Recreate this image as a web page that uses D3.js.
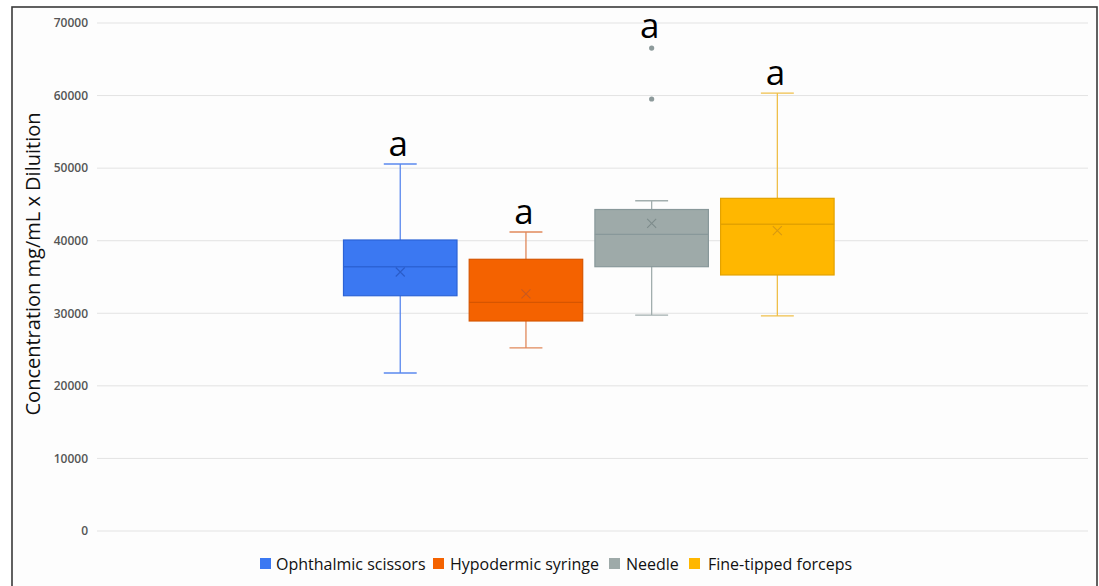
<!DOCTYPE html>
<html><head><meta charset="utf-8">
<script src="https://cdn.jsdelivr.net/npm/d3@7"></script>
<style>
html,body{margin:0;padding:0;background:#fff;}
svg{display:block;font-family:"Open Sans",sans-serif;}
</style></head>
<body><svg id="c" width="1099" height="586"></svg>
<script>
const categories = ["Ophthalmic scissors","Hypodermic syringe","Needle","Fine-tipped forceps"];
const minVals    = [21770, 25220, 29760, 29630];
const q1Vals     = [32420, 28940, 36420, 35280];
const medianVals = [36420, 31510, 40880, 42260];
const q3Vals     = [40100, 37440, 44300, 45840];
const maxVals    = [50570, 41200, 45510, 60350];
const meanVals   = [35690, 32660, 42400, 41380];
const outliers   = [[], [], [66550, 59530], []];
const letters    = ["a","a","a","a"];
const yTicks     = [0,10000,20000,30000,40000,50000,60000,70000];

const fills   = ["#3b78f2","#f46200","#9eaaa9","#ffb700"];
const strokes = ["#2c63d6","#d65500","#88989a","#e3a200"];
const whisk   = ["#5a88ee","#e0885a","#a2aeae","#efbf4a"];
const marks   = ["#2a5cc8","#c85a20","#7e8c8c","#d99a10"];

const svg = d3.select("#c");
// frame
svg.append("rect").attr("x",0).attr("y",0).attr("width",1099).attr("height",586).attr("fill","#fff");
svg.append("rect").attr("x",12).attr("y",7).attr("width",1085).attr("height",600)
  .attr("fill","#fdfdfd").attr("stroke","#3a3a3a").attr("stroke-width",1.6);

const plotL = 97, plotR = 1088;
const y = d3.scaleLinear().domain([0,70000]).range([531,23]);
const x = d3.scaleBand().domain(categories).range([331.3,846.3]).padding(0.097);

// grid
svg.append("g").selectAll("line").data(yTicks).join("line")
  .attr("x1",plotL).attr("x2",plotR).attr("y1",d=>y(d)).attr("y2",d=>y(d))
  .attr("stroke","#e3e3e3").attr("stroke-width",1);

// y axis labels
const yAxis = d3.axisLeft(y).tickValues(yTicks).tickSize(0).tickPadding(9).tickFormat(d3.format("d"));
const ga = svg.append("g").attr("transform",`translate(${plotL},0)`).call(yAxis);
ga.select(".domain").remove();
ga.selectAll("text").attr("font-family","Open Sans").attr("font-size",12).attr("font-weight",600).attr("fill","#555");

// y title
svg.append("text").attr("transform","translate(40,264) rotate(-90)")
  .attr("text-anchor","middle").attr("font-size",20).attr("fill","#111")
  .text("Concentration mg/mL x Diluition");

const bw = x.bandwidth();
const capW = bw*0.29;
categories.forEach((c,i)=>{
  const g = svg.append("g");
  const cx = x(c)+bw/2;
  // whiskers
  g.append("line").attr("x1",cx).attr("x2",cx).attr("y1",y(maxVals[i])).attr("y2",y(q3Vals[i])).attr("stroke",whisk[i]).attr("stroke-width",1.3);
  g.append("line").attr("x1",cx).attr("x2",cx).attr("y1",y(q1Vals[i])).attr("y2",y(minVals[i])).attr("stroke",whisk[i]).attr("stroke-width",1.3);
  g.append("line").attr("x1",cx-capW/2).attr("x2",cx+capW/2).attr("y1",y(maxVals[i])).attr("y2",y(maxVals[i])).attr("stroke",whisk[i]).attr("stroke-width",1.3);
  g.append("line").attr("x1",cx-capW/2).attr("x2",cx+capW/2).attr("y1",y(minVals[i])).attr("y2",y(minVals[i])).attr("stroke",whisk[i]).attr("stroke-width",1.3);
  // box
  g.append("rect").attr("x",x(c)).attr("width",bw).attr("y",y(q3Vals[i])).attr("height",y(q1Vals[i])-y(q3Vals[i]))
    .attr("fill",fills[i]).attr("stroke",strokes[i]).attr("stroke-width",1.2);
  // median
  g.append("line").attr("x1",x(c)).attr("x2",x(c)+bw).attr("y1",y(medianVals[i])).attr("y2",y(medianVals[i]))
    .attr("stroke",strokes[i]).attr("stroke-width",1.4);
  // mean x
  const my = y(meanVals[i]), s = 4.5;
  g.append("path").attr("d",`M${cx-s},${my-s}L${cx+s},${my+s}M${cx-s},${my+s}L${cx+s},${my-s}`)
    .attr("stroke",marks[i]).attr("stroke-width",1.1).attr("fill","none");
  // outliers
  g.selectAll("circle").data(outliers[i]).join("circle").attr("cx",cx).attr("cy",d=>y(d)).attr("r",2.6).attr("fill","#8d9a9b");
  // letter
  const top = d3.max([maxVals[i], ...outliers[i]]);
  g.append("text").attr("x",cx-2).attr("y",y(top)-(outliers[i].length?10:8)).attr("text-anchor","middle")
    .attr("font-size",35).attr("fill","#000").text(letters[i]);
});

// legend
const legX = [260, 433, 609, 689];
const txtX = [276, 450, 626, 708];
const lg = svg.append("g");
categories.forEach((c,i)=>{
  lg.append("rect").attr("x",legX[i]).attr("y",558).attr("width",11).attr("height",11).attr("fill",fills[i]);
  lg.append("text").attr("x",txtX[i]).attr("y",569.5).attr("font-size",16).attr("fill","#111").text(c);
});
</script></body></html>
